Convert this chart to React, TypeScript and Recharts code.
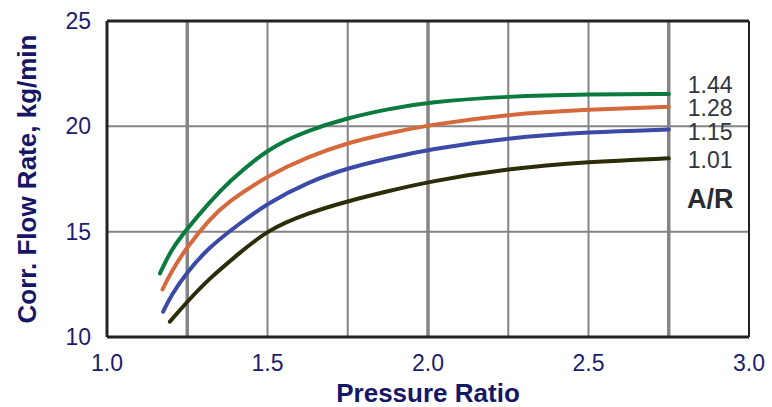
import { LineChart, Line, XAxis, YAxis, ReferenceLine, LabelList } from 'recharts'

type Pt = { x: number; y: number }

// pressure ratio vs corrected flow rate, one list per turbine A/R
const ar144: Pt[] = [
  { x: 1.165, y: 13.02 }, { x: 1.2, y: 14.15 }, { x: 1.25, y: 15.15 }, { x: 1.32, y: 16.4 },
  { x: 1.375, y: 17.3 }, { x: 1.5, y: 18.95 }, { x: 1.625, y: 19.8 }, { x: 1.75, y: 20.4 },
  { x: 1.875, y: 20.82 }, { x: 2.0, y: 21.15 }, { x: 2.25, y: 21.43 }, { x: 2.5, y: 21.52 },
  { x: 2.75, y: 21.54 },
]
const ar128: Pt[] = [
  { x: 1.173, y: 12.26 }, { x: 1.2, y: 13.1 }, { x: 1.25, y: 14.29 }, { x: 1.32, y: 15.6 },
  { x: 1.375, y: 16.4 }, { x: 1.5, y: 17.65 }, { x: 1.625, y: 18.55 }, { x: 1.75, y: 19.22 },
  { x: 1.875, y: 19.67 }, { x: 2.0, y: 20.06 }, { x: 2.25, y: 20.58 }, { x: 2.5, y: 20.8 },
  { x: 2.75, y: 20.93 },
]
const ar115: Pt[] = [
  { x: 1.175, y: 11.2 }, { x: 1.2, y: 11.99 }, { x: 1.25, y: 13.1 }, { x: 1.32, y: 14.29 },
  { x: 1.41, y: 15.35 }, { x: 1.5, y: 16.35 }, { x: 1.625, y: 17.35 }, { x: 1.75, y: 18.02 },
  { x: 1.875, y: 18.48 }, { x: 2.0, y: 18.9 }, { x: 2.25, y: 19.46 }, { x: 2.5, y: 19.73 },
  { x: 2.75, y: 19.85 },
]
const ar101: Pt[] = [
  { x: 1.196, y: 10.73 }, { x: 1.25, y: 11.68 }, { x: 1.32, y: 12.8 }, { x: 1.41, y: 13.95 },
  { x: 1.5, y: 15.08 }, { x: 1.625, y: 15.88 }, { x: 1.75, y: 16.45 },
  { x: 1.875, y: 16.92 }, { x: 2.0, y: 17.37 }, { x: 2.25, y: 18.0 }, { x: 2.5, y: 18.32 },
  { x: 2.75, y: 18.48 },
]

const xTicks = [1.0, 1.5, 2.0, 2.5, 3.0]
const yTicks = [10, 15, 20, 25]
const gridX = [1.25, 1.5, 1.75, 2.0, 2.25, 2.5, 2.75]
const gridXMajor = [1.25, 2.0, 2.75]
const gridY = [15, 20]

const SERIES = [
  { name: '1.44', data: ar144, color: '#0b7a3e', dy: -9 },
  { name: '1.28', data: ar128, color: '#d6693b', dy: 1 },
  { name: '1.15', data: ar115, color: '#3a4aa6', dy: 3 },
  { name: '1.01', data: ar101, color: '#2c2c08', dy: 2 },
]

const FONT = '"Liberation Sans", Arial, sans-serif'
const TICK_COLOR = '#1c1c6e'
const TITLE_COLOR = '#161666'

const App = () => {
  return (
    <div style={{ position: 'absolute', left: 0, top: 0, width: 772, height: 407, fontFamily: FONT }}>
      <LineChart width={772} height={407} margin={{ top: 21, right: 23, bottom: 0, left: 0 }}>
        {gridX.map((v) => (
          <ReferenceLine
            key={'gx' + v}
            x={v}
            stroke="#858585"
            strokeWidth={gridXMajor.includes(v) ? 3.5 : 2}
          />
        ))}
        {gridY.map((v) => (
          <ReferenceLine key={'gy' + v} y={v} stroke="#858585" strokeWidth={2} />
        ))}
        <ReferenceLine y={25} stroke="#222" strokeWidth={3} />
        <ReferenceLine x={3} stroke="#222" strokeWidth={2} />
        <XAxis
          dataKey="x"
          type="number"
          domain={[1, 3]}
          ticks={xTicks}
          tickFormatter={(v: number) => v.toFixed(1)}
          height={70}
          tickLine={false}
          tickSize={0}
          tickMargin={18}
          axisLine={{ stroke: '#222', strokeWidth: 3 }}
          tick={{ fill: TICK_COLOR, fontSize: 23, fontFamily: FONT }}
          label={{
            content: ({ viewBox }: any) => (
              <text
                x={viewBox.x + viewBox.width / 2}
                y={viewBox.y + 65}
                textAnchor="middle"
                fill={TITLE_COLOR}
                fontSize={26}
                fontWeight="bold"
                fontFamily={FONT}
              >
                Pressure Ratio
              </text>
            ),
          }}
        />
        <YAxis
          type="number"
          domain={[10, 25]}
          ticks={yTicks}
          width={107}
          tickLine={false}
          tickSize={0}
          tickMargin={16}
          axisLine={{ stroke: '#222', strokeWidth: 3 }}
          tick={{ fill: TICK_COLOR, fontSize: 23, fontFamily: FONT }}
          label={{
            content: ({ viewBox }: any) => {
              const cx = viewBox.x + 27
              const cy = viewBox.y + viewBox.height / 2
              return (
                <text
                  x={cx}
                  y={cy}
                  transform={`rotate(-90 ${cx} ${cy})`}
                  textAnchor="middle"
                  dominantBaseline="central"
                  fill={TITLE_COLOR}
                  fontSize={26}
                  fontWeight="bold"
                  fontFamily={FONT}
                >
                  Corr. Flow Rate, kg/min
                </text>
              )
            },
          }}
        />
        {SERIES.map((s) => (
          <Line
            key={s.name}
            data={s.data}
            dataKey="y"
            type="basis"
            stroke={s.color}
            strokeWidth={4}
            strokeLinecap="round"
            dot={false}
            activeDot={false}
            isAnimationActive={false}
          >
            <LabelList
              dataKey="y"
              content={(p: any) =>
                p.index === s.data.length - 1 ? (
                  <text
                    x={p.x + 19}
                    y={p.y + s.dy}
                    dominantBaseline="central"
                    fill="#333340"
                    fontSize={23}
                    fontFamily={FONT}
                  >
                    {s.name}
                  </text>
                ) : null
              }
            />
          </Line>
        ))}
      </LineChart>
      <div
        style={{
          position: 'absolute',
          left: 687,
          top: 186,
          fontSize: 27,
          fontWeight: 'bold',
          color: '#2a2a33',
          lineHeight: 1,
        }}
      >
        A/R
      </div>
    </div>
  )
}

export default App
